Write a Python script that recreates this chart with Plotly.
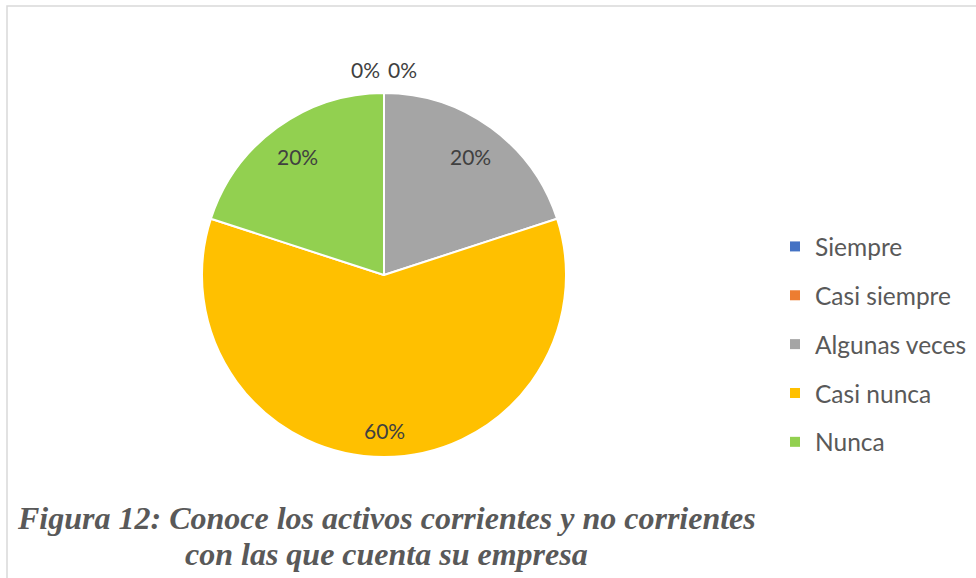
import math
import plotly.graph_objects as go

categories = ["Siempre", "Casi siempre", "Algunas veces", "Casi nunca", "Nunca"]
values = [0, 0, 20, 60, 20]
colors = ["#4472C4", "#ED7D31", "#A5A5A5", "#FFC000", "#92D050"]
caption_lines = ["Figura 12: Conoce los activos corrientes y no corrientes",
                 "con las que cuenta su empresa"]

W, H = 976, 578
cx, cy, R = 384, 275, 182

def px2x(p):
    return p / W

def px2y(p):
    return 1 - p / H

fig = go.Figure()
fig.add_trace(go.Pie(
    labels=categories, values=values, sort=False, direction="clockwise", rotation=0,
    marker=dict(colors=colors, line=dict(color="white", width=2)),
    textinfo="none", hoverinfo="label+percent", showlegend=False,
    domain=dict(x=[px2x(cx - R), px2x(cx + R)], y=[px2y(cy + R), px2y(cy - R)]),
))

# legend proxies (one per category, so item spacing can be controlled)
for cat, col in zip(categories, colors):
    fig.add_trace(go.Scatter(
        x=[None], y=[None], mode="markers", name=cat, legendgroup=cat,
        marker=dict(symbol="square", size=10, color=col, line=dict(width=0)),
        hoverinfo="skip",
    ))

label_font = dict(family="Lato", size=21, color="#404040")
annotations = []
total = sum(values)
cum = 0.0
pad, hw, hh = 15, 20, 10
zero_idx = [i for i, v in enumerate(values) if v == 0]
for i, (cat, v) in enumerate(zip(categories, values)):
    frac = v / total
    text = f"{round(frac * 100)}%"
    if v > 0:
        mid = 2 * math.pi * (cum + frac / 2)
        ux, uy = math.sin(mid), -math.cos(mid)
        sx = hw if ux >= 0 else -hw
        sy = hh if uy >= 0 else -hh
        b = ux * sx + uy * sy
        c = hw * hw + hh * hh - (R - pad) ** 2
        t = -b + math.sqrt(b * b - c)
        annotations.append(dict(x=px2x(cx + t * ux), y=px2y(cy + t * uy), xref="paper", yref="paper",
                                text=text, showarrow=False, font=label_font,
                                xanchor="center", yanchor="middle"))
    else:
        k = zero_idx.index(i)
        offset = (k - (len(zero_idx) - 1) / 2) * 37
        annotations.append(dict(x=px2x(cx + offset), y=px2y(cy - R - 23), xref="paper", yref="paper",
                                text=text, showarrow=False, font=label_font,
                                xanchor="center", yanchor="middle"))
    cum += frac

cap_font = dict(family="Liberation Serif", size=32, color="#595959", weight="bold", style="italic")
for j, line in enumerate(caption_lines):
    annotations.append(dict(x=px2x(386), y=px2y(518 + 36 * j), xref="paper", yref="paper",
                            text=line, showarrow=False, font=cap_font,
                            xanchor="center", yanchor="middle"))

fig.update_layout(
    width=W, height=H, margin=dict(l=0, r=0, t=0, b=0),
    paper_bgcolor="white", plot_bgcolor="white",
    xaxis=dict(visible=False), yaxis=dict(visible=False),
    showlegend=True,
    legend=dict(x=px2x(775), y=px2y(224), xanchor="left", yanchor="top",
                font=dict(family="Lato", size=24.5, color="#595959"),
                tracegroupgap=14, itemwidth=30, bgcolor="rgba(0,0,0,0)"),
    annotations=annotations,
    shapes=[dict(type="rect", xref="paper", yref="paper",
                 x0=px2x(7), x1=1.05, y0=-0.05, y1=px2y(6),
                 line=dict(color="#D9D9D9", width=1.5))],
)

fig.write_html("out.html", config={"displayModeBar": False},
               post_script="document.body.style.margin='0';")
